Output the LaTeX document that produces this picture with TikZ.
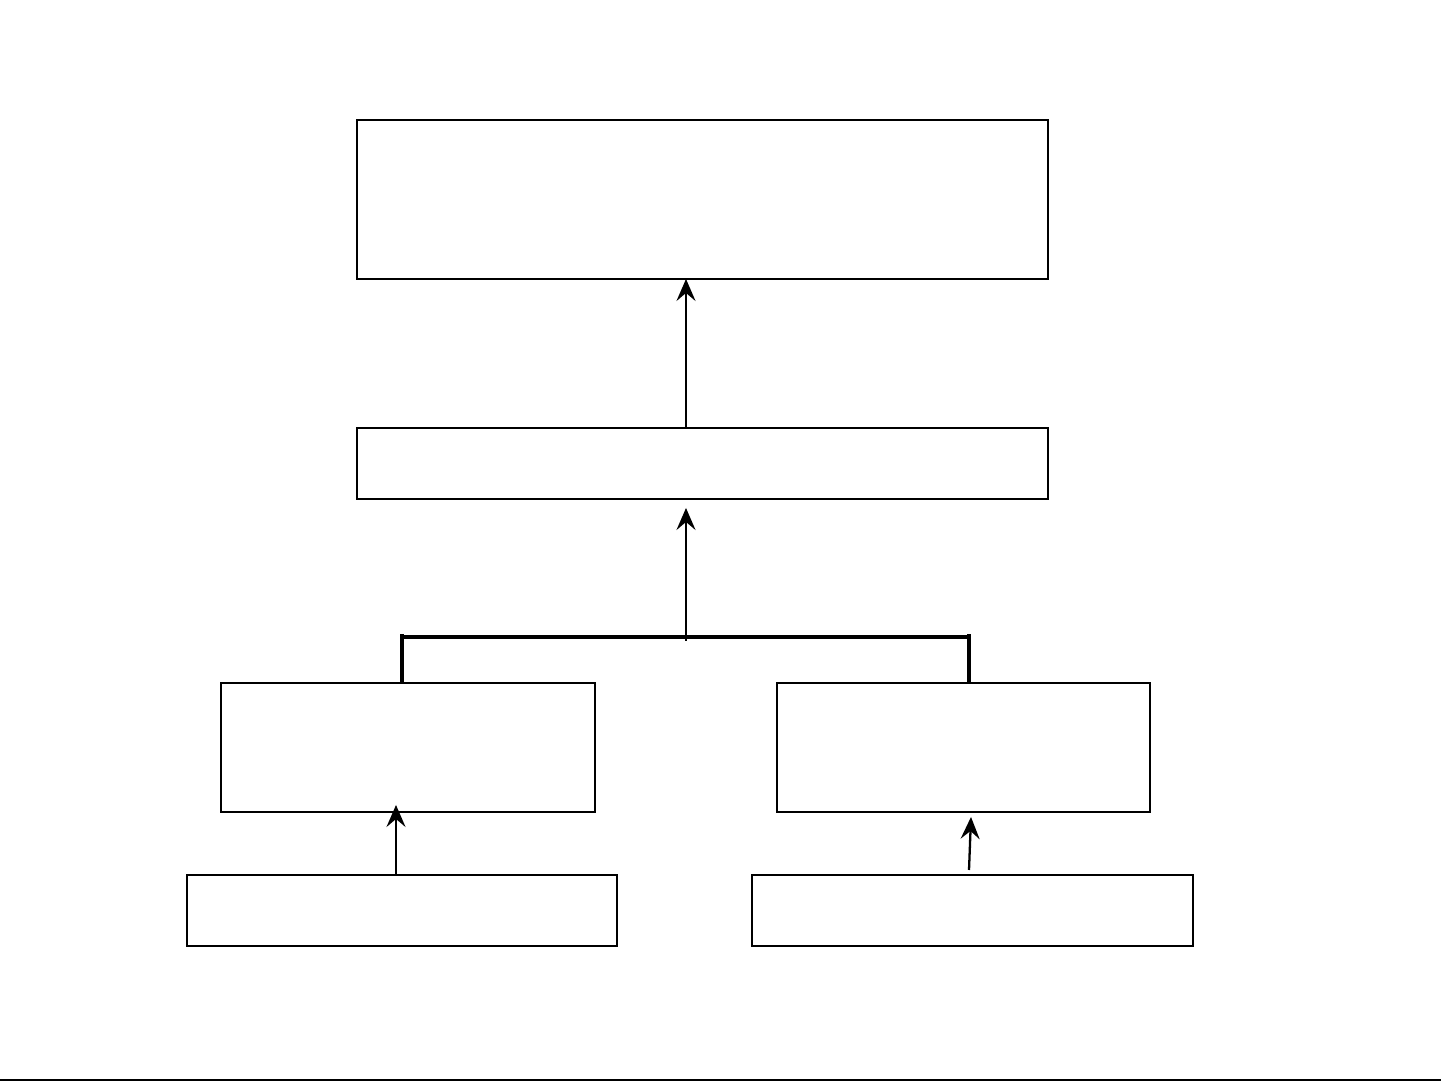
\documentclass[tikz,border=0pt]{standalone}
\usetikzlibrary{arrows.meta,positioning,calc}

\tikzset{
  bigbox/.style={draw, line width=0.75pt, inner sep=0pt, outer sep=0pt},
  smallbox/.style={draw, line width=0.6pt, inner sep=0pt, outer sep=0pt},
  arr/.style={line width=0.65pt, -{Stealth[length=2.2mm,width=1.9mm,inset=0.8mm]}},
  bracket/.style={line width=1.0pt}
}

\begin{document}
\begin{tikzpicture}
 \useasboundingbox (0,0) rectangle (14.41,10.81);

 % boxes
 \node[bigbox, minimum width=6.91cm, minimum height=1.59cm] (top) at (7.025,8.815) {};
 \node[bigbox, minimum width=6.91cm, minimum height=0.71cm] (mid) at (7.025,6.175) {};
 \node[smallbox, minimum width=3.74cm, minimum height=1.29cm] (lmid) at (4.08,3.335) {};
 \node[smallbox, minimum width=3.73cm, minimum height=1.29cm] (rmid) at (9.635,3.335) {};
 \node[smallbox, minimum width=4.30cm, minimum height=0.71cm] (lbot) at (4.02,1.705) {};
 \node[smallbox, minimum width=4.41cm, minimum height=0.71cm] (rbot) at (9.725,1.705) {};

 % bracket joining the two middle boxes
 \coordinate (lj) at (4.02,4.44);
 \coordinate (rj) at (9.69,4.44);
 \coordinate (cj) at (6.86,4.40);
 \draw[bracket] (lmid.north -| lj) -- ($(lj)+(0,0.03)$);
 \draw[bracket] (rmid.north -| rj) -- ($(rj)+(0,0.03)$);
 \draw[bracket] (lj) -- (rj);

 % arrows
 \draw[arr] (mid.north -| cj) -- (top.south -| cj);
 \draw[arr, shorten >=0.09cm] (cj) -- (mid.south -| cj);
 \coordinate (la) at (3.96,0);
 \draw[arr, shorten >=-0.07cm] (lbot.north -| la) -- (lmid.south -| la);
 \coordinate (ra1) at (9.69,2.11);
 \coordinate (ra2) at (9.71,2.64);
 \draw[arr] (ra1) -- (ra2);

 % bottom edge
 \draw[line width=0.5pt] (0,0.01) -- (14.41,0.01);
\end{tikzpicture}
\end{document}
